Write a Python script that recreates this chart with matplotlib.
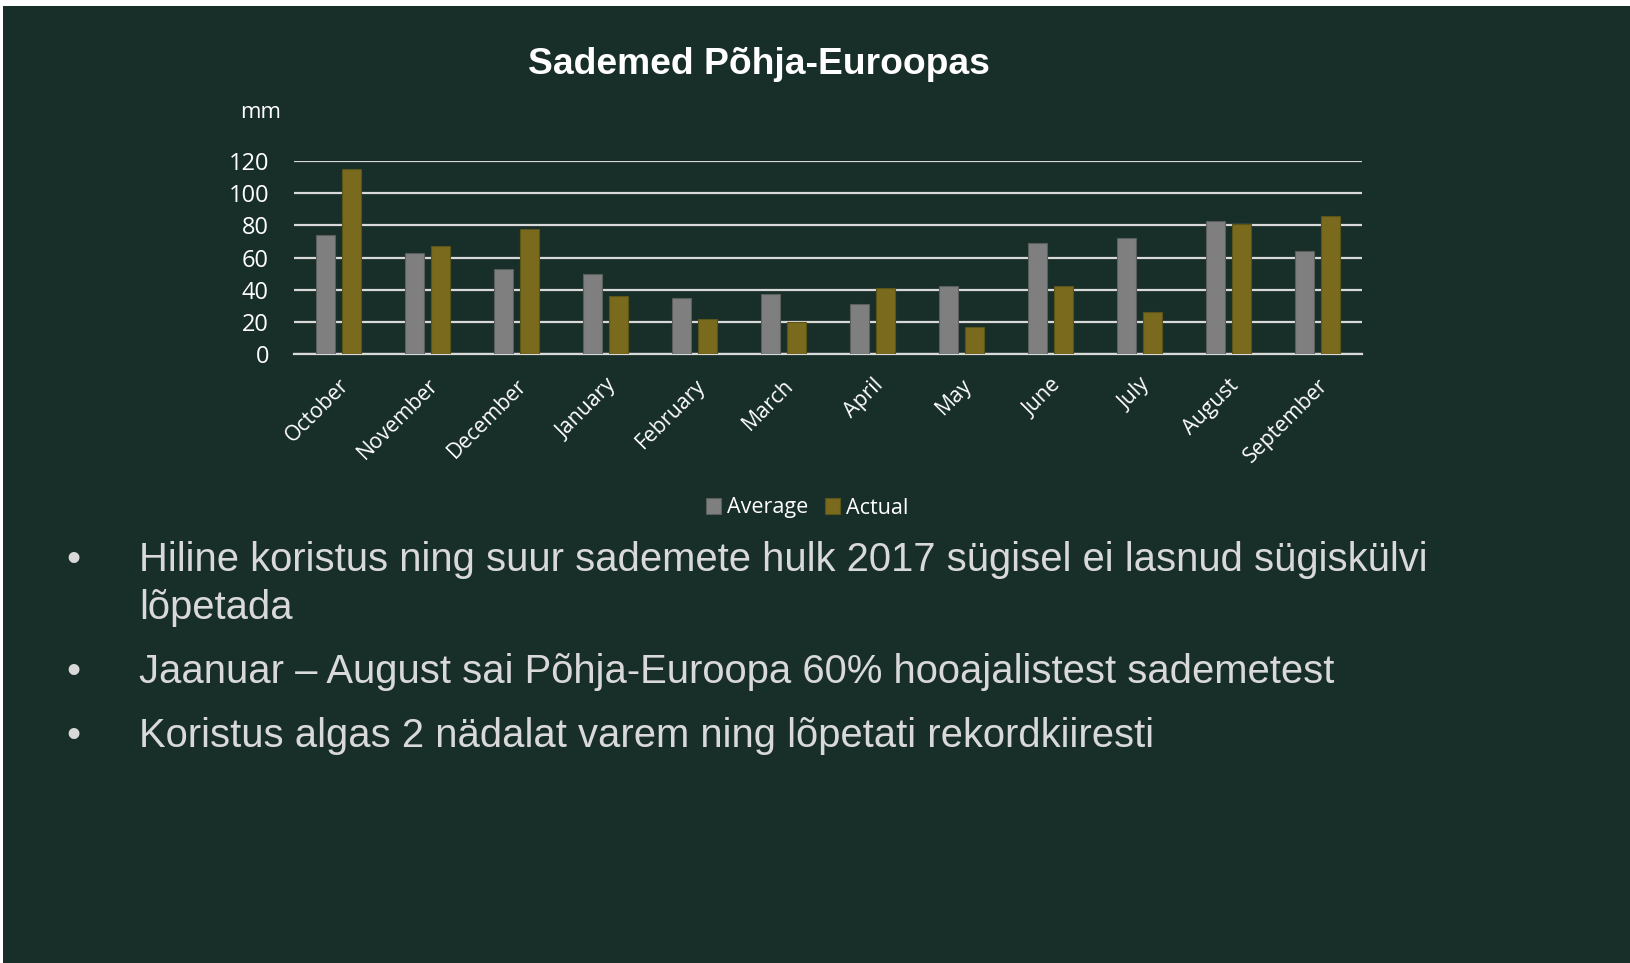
import matplotlib.pyplot as plt
from matplotlib.patches import Rectangle
import numpy as np

months = ["October", "November", "December", "January", "February", "March",
          "April", "May", "June", "July", "August", "September"]
average = [74, 63, 53, 50, 35, 37, 31, 42, 69, 72, 83, 64]
actual = [115, 67, 78, 36, 22, 20, 41, 17, 42, 26, 81, 86]
y_ticks = [0, 20, 40, 60, 80, 100, 120]

bullets = [
    "Hiline koristus ning suur sademete hulk 2017 sügisel ei lasnud sügiskülvi",
    "lõpetada",
    "Jaanuar – August sai Põhja-Euroopa 60% hooajalistest sademetest",
    "Koristus algas 2 nädalat varem ning lõpetati rekordkiiresti",
]
has_bullet = [True, False, True, True]

BG = "#182e29"
GREY = "#7f7f7f"
GOLD = "#7a6a1e"
GRID = "#d9d9d9"
W, H = 1631, 963


def plot_rain() -> None:
    fig = plt.figure(figsize=(W / 100, H / 100), dpi=100, facecolor="white")
    fig.patches.append(Rectangle((3 / W, 0), 1 - 3 / W, 1 - 6 / H,
                                 transform=fig.transFigure, facecolor=BG,
                                 edgecolor="none", zorder=-10))

    ax = fig.add_axes([294 / W, 609 / H, 1068 / W, 193 / H])
    ax.set_facecolor("none")
    x = np.arange(len(months))
    ax.bar(x - 0.145, average, width=0.22, color=GREY, edgecolor="#5a5f5c",
           linewidth=0.8, label="Average", zorder=3)
    ax.bar(x + 0.145, actual, width=0.22, color=GOLD, edgecolor="#5a5418",
           linewidth=0.8, label="Actual", zorder=3)

    ax.set_xlim(-0.5, len(months) - 0.5)
    ax.set_ylim(0, 120)
    ax.set_yticks(y_ticks)
    ax.set_yticklabels([str(v) for v in y_ticks], fontsize=17,
                       family="Open Sans", color="white")
    ax.yaxis.grid(True, color=GRID, linewidth=1.6, zorder=0)
    ax.tick_params(axis="y", length=0, pad=18)
    ax.tick_params(axis="x", length=0, pad=15)
    ax.set_xticks(x)
    ax.set_xticklabels(months, rotation=45, ha="right", rotation_mode="anchor",
                       fontsize=15.3, family="Open Sans", color="white")
    for s in ["top", "right", "left"]:
        ax.spines[s].set_visible(False)
    ax.spines["bottom"].set_color(GRID)
    ax.spines["bottom"].set_linewidth(1.6)

    fig.text(281 / W, 1 - 112 / H, "mm", ha="right", va="center",
             fontsize=16, family="Open Sans", color="white")
    fig.text(759 / W, 1 - 65 / H, "Sademed Põhja-Euroopas", ha="center",
             va="center", fontsize=26.8, fontweight="bold",
             family="Liberation Sans", color="white")

    leg = fig.legend(loc="center", bbox_to_anchor=(807 / W, 1 - 508 / H),
                     ncol=2, frameon=False, handlelength=0.7, handleheight=0.7,
                     handletextpad=0.3, columnspacing=0.75,
                     prop={"family": "Open Sans", "size": 15.5})
    for t in leg.get_texts():
        t.set_color("white")

    baselines = [571, 619, 683, 747]
    for y, txt, b in zip(baselines, bullets, has_bullet):
        if b:
            fig.text(73 / W, 1 - y / H, "•", ha="center", va="baseline",
                     fontsize=28.8, family="Liberation Sans", color="#d9d9d9")
        fig.text(139 / W, 1 - y / H, txt, ha="left", va="baseline",
                 fontsize=28.8, family="Liberation Sans", color="#d9d9d9")

    fig.savefig("out.png", dpi=100, facecolor=fig.get_facecolor())
    plt.close(fig)


if __name__ == "__main__":
    plot_rain()
